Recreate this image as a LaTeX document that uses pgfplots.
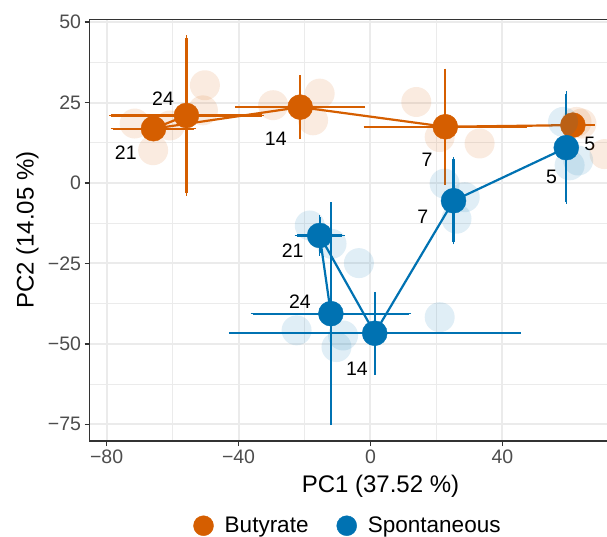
\documentclass[border=0pt]{standalone}
\usepackage{fontspec}
\setmainfont{Liberation Sans}
\usepackage{pgfplots}
\usepackage{pgfplotstable}
\pgfplotsset{compat=1.18}
\definecolor{butyr}{HTML}{D55E00}
\definecolor{spont}{HTML}{0072B2}
\definecolor{gridc}{HTML}{EBEBEB}
\definecolor{axc}{HTML}{333333}
\definecolor{tickc}{HTML}{4D4D4D}

% group means (day order 5, 7, 14, 21, 24) with SD
\pgfplotstableread{
x      y      ex    ey
61.4   18.0   6.1   1.5
22.7   17.5   24.1  17.4
-21.3  23.6   19.0  9.3
-65.8  16.9   12.3  1.5
-55.8  21.0   22.8  24.2
}\butmean
\pgfplotstableread{
x      y      ex    ey
59.4   11.0   1.5   16.8
25.2   -5.5   2.5   12.9
1.3    -46.7  43.6  12.2
-15.4  -16.3  6.9   5.6
-12.0  -40.6  23.7  34.0
}\spomean
% individual samples
\pgfplotstableread{
x      y
-50.2  30.4
-50.8  22.6
-71.5  18.5
-65.9  10.2
-60.8  17.9
-29.5  24.2
-15.4  27.8
-17.4  19.5
13.9   25.2
21.0   14.3
33.1   12.3
62.5   19.0
64.0   18.5
71.0   9.0
}\butsamp
\pgfplotstableread{
x      y
-18.4  -13.2
-11.8  -18.9
-3.5   -24.9
-22.4  -45.8
-8.3   -47.4
-10.3  -51.0
21.0   -41.7
22.5   -0.2
26.1   -11.1
28.6   -4.4
60.4   5.5
58.4   19.0
63.0   7.0
}\sposamp

\begin{document}
\begin{tikzpicture}
\useasboundingbox (0,0) rectangle (607pt,-536pt);
\clip (0,0) rectangle (607pt,-536pt);
\begin{axis}[
    at={(89.5pt,-441pt)}, anchor=south west,
    scale only axis, width=582pt, height=421.7pt,
    xmin=-85.2, xmax=91.3, ymin=-80.2, ymax=50.9,
    xtick={-80,-40,0,40}, xticklabels={−80,−40,0,40},
    ytick={-75,-50,-25,0,25,50}, yticklabels={−75,−50,−25,0,25,50},
    minor x tick num=1, minor y tick num=1,
    grid=both,
    major grid style={gridc, line width=2pt},
    minor grid style={gridc, line width=1pt},
    axis line style={axc, line width=1.5pt},
    tick style={axc, line width=1.5pt},
    tick align=outside, major tick length=5pt, minor tick length=0pt,
    xtick pos=bottom, ytick pos=left,
    ticklabel style={tickc, font=\fontsize{19.5}{23}\selectfont},
    xlabel={PC1 (37.52 \%)}, ylabel={PC2 (14.05 \%)},
    label style={black, font=\fontsize{24}{28}\selectfont},
    xlabel style={at={(axis description cs:0.5,-0.1232)}, anchor=base},
    ylabel style={at={(axis description cs:-0.0962,0.5)}, anchor=base, rotate=0},
    legend columns=2,
    legend style={at={(axis description cs:0.1784,-0.1995)}, anchor=west,
        draw=none, fill=none, inner sep=0pt, outer sep=0pt,
        font=\fontsize{22.5}{27}\selectfont,
        /tikz/every odd column/.style={column sep=9pt},
        /tikz/every even column/.style={column sep=26pt},
        cells={anchor=base west, inner sep=0pt}},
]
% legend keys
\addlegendimage{legend image code/.code={\fill[butyr] (10pt,6.3pt) circle (10pt);}}
\addlegendentry{Butyrate}
\addlegendimage{legend image code/.code={\fill[spont] (10pt,6.3pt) circle (10pt);}}
\addlegendentry{Spontaneous}

% Butyrate
\addplot[only marks, mark=*, mark size=15pt, mark options={butyr, draw opacity=0, fill opacity=0.12}, forget plot] table {\butsamp};
\addplot[butyr, line width=2.2pt, no marks, forget plot] table[x=x, y=y] {\butmean};
\addplot[butyr, only marks, mark=*, mark size=12.5pt, forget plot,
    error bars/.cd, x dir=both, x explicit, y dir=both, y explicit,
    error bar style={line width=2.2pt, butyr},
    error mark options={line width=1.6pt, mark size=2.2pt, butyr}]
    table[x=x, y=y, x error=ex, y error=ey] {\butmean};

% Spontaneous
\addplot[only marks, mark=*, mark size=15pt, mark options={spont, draw opacity=0, fill opacity=0.12}, forget plot] table {\sposamp};
\addplot[spont, line width=2.2pt, no marks, forget plot] table[x=x, y=y] {\spomean};
\addplot[spont, only marks, mark=*, mark size=12.5pt, forget plot,
    error bars/.cd, x dir=both, x explicit, y dir=both, y explicit,
    error bar style={line width=2.2pt, spont},
    error mark options={line width=1.6pt, mark size=2.2pt, spont}]
    table[x=x, y=y, x error=ex, y error=ey] {\spomean};

% day labels
\begin{scope}[every node/.style={font=\fontsize{19.5}{23}\selectfont, black}]
\node at (axis cs:-62.9,26.2) {24};
\node at (axis cs:-74.2,9.3) {21};
\node at (axis cs:-28.7,13.8) {14};
\node at (axis cs:17.2,7.1) {7};
\node at (axis cs:66.5,12.3) {5};
\node at (axis cs:54.9,1.9) {5};
\node at (axis cs:15.9,-10.6) {7};
\node at (axis cs:-23.6,-20.9) {21};
\node at (axis cs:-21.4,-36.8) {24};
\node at (axis cs:-4.1,-57.7) {14};
\end{scope}
\end{axis}
\end{tikzpicture}
\end{document}
